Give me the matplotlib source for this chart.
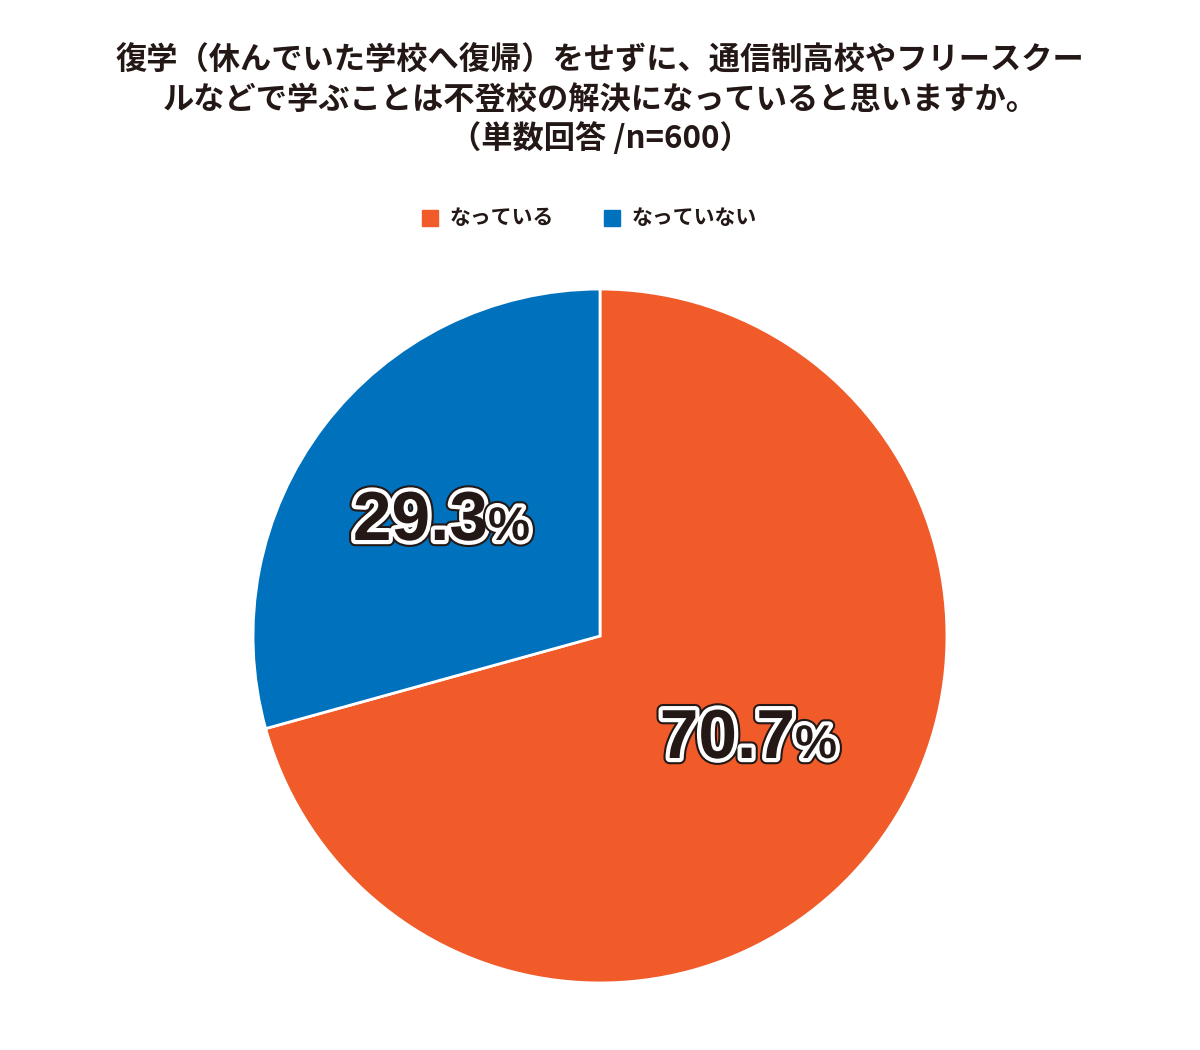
import matplotlib
matplotlib.use("Agg")
import matplotlib.pyplot as plt
import matplotlib.patheffects as pe

categories = ["なっている", "なっていない"]
values = [70.7, 29.3]
colors = ["#F15A29", "#0071BC"]
title = "復学（休んでいた学校へ復帰）をせずに、通信制高校やフリースクー\nルなどで学ぶことは不登校の解決になっていると思いますか。\n（単数回答 /n=600）"

plt.rcParams["font.family"] = "Noto Sans CJK JP"
fig = plt.figure(figsize=(12, 10.5), dpi=100)
ax = fig.add_axes([(600-348)/1200, 1-(636+348)/1050, 696/1200, 696/1050])
ax.pie(values, colors=colors, startangle=90, counterclock=False,
       wedgeprops=dict(edgecolor="white", linewidth=2))
ax.set_xlim(-1.003, 1.003)
ax.set_ylim(-1.003, 1.003)
ax.set_aspect("equal")

fig.text(0.5, 1-100/1050, title, ha="center", va="center", fontsize=22.5,
         fontweight="bold", linespacing=1.25, color="#231815")

# legend
for i, (c, col) in enumerate(zip(categories, colors)):
    x0 = [422, 604][i]
    fig.patches.append(plt.Rectangle((x0/1200, 1-226/1050), 16/1200, 16/1050,
                                     transform=fig.transFigure, color=col))
    fig.text((x0+28)/1200, 1-218/1050, c, ha="left", va="center", fontsize=15,
             fontweight="bold", color="#231815")

eff = [pe.Stroke(linewidth=9, foreground="#231815"),
       pe.Stroke(linewidth=6, foreground="white"), pe.Normal()]
for v, (px, py) in zip(values, [(795, 740), (488, 522)]):
    fig.text(px/1200, 1-py/1050, f"{v:.1f}", ha="right", va="center",
             fontsize=50, fontweight="bold", color="#231815",
             family="Liberation Sans", path_effects=eff)
    fig.text(px/1200, 1-(py+6)/1050, "%", ha="left", va="center",
             fontsize=34, fontweight="bold", color="#231815",
             family="Liberation Sans", path_effects=eff)

fig.savefig("out.png", dpi=100, facecolor="white")
